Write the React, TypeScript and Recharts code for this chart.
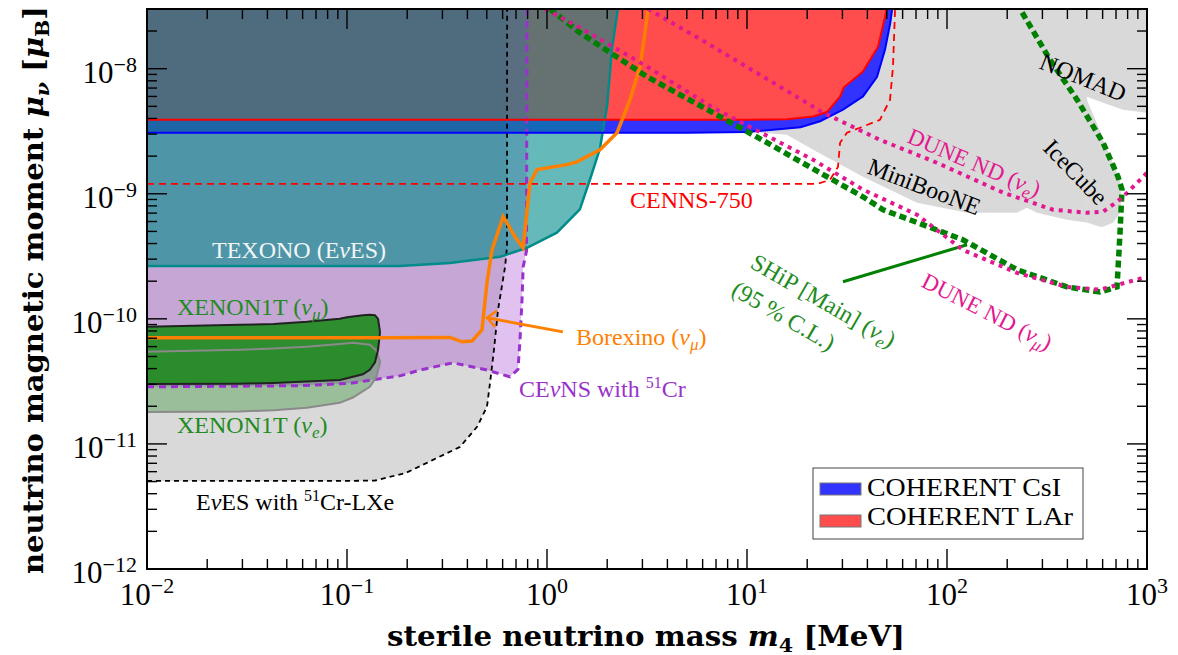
import React from "react";
import { ComposedChart, Area, Line, XAxis, YAxis } from "recharts";

const W = 1178;
const H = 655;
// plot frame in page pixels
const PL = 147;
const PT = 9;
const PR = 1147;
const PB = 569;
const TOP = 3e-8;
const SERIF = '"Liberation Serif", "Times New Roman", serif';
const BOLD = '"DejaVu Serif", serif';

// ---- region edges (m4 in MeV, mu in Bohr magnetons) ----
const csiEdge = [
  { m: 0.01, mu: 3.08e-9 }, { m: 5, mu: 3.08e-9 }, { m: 10, mu: 3.12e-9 }, { m: 18.5, mu: 3.4e-9 },
  { m: 23.2, mu: 3.8e-9 }, { m: 30.2, mu: 4.7e-9 }, { m: 38, mu: 6e-9 }, { m: 44.7, mu: 8.6e-9 },
  { m: 49, mu: 1.42e-8 }, { m: 52, mu: 2.3e-8 }, { m: 53.2, mu: 3e-8 },
];
const larEdge = [
  { m: 0.01, mu: 3.9e-9 }, { m: 10, mu: 3.9e-9 }, { m: 15.8, mu: 3.95e-9 }, { m: 21.4, mu: 4.15e-9 },
  { m: 25.1, mu: 4.5e-9 }, { m: 29.2, mu: 6e-9 }, { m: 30.5, mu: 7.1e-9 }, { m: 38, mu: 9.5e-9 },
  { m: 45.2, mu: 1.5e-8 }, { m: 49, mu: 2.6e-8 }, { m: 50, mu: 3e-8 },
];
const texonoEdge = [
  { m: 0.01, mu: 2.65e-10 }, { m: 0.184, mu: 2.65e-10 }, { m: 0.327, mu: 2.8e-10 }, { m: 0.582, mu: 3.13e-10 },
  { m: 0.794, mu: 3.7e-10 }, { m: 1.12, mu: 4.88e-10 }, { m: 1.46, mu: 7.5e-10 }, { m: 1.64, mu: 1.3e-9 },
  { m: 1.84, mu: 2.3e-9 }, { m: 2.0, mu: 5.1e-9 }, { m: 2.11, mu: 1.42e-8 }, { m: 2.26, mu: 3e-8 },
];
const cevnsEdge = [
  { m: 0.01, mu: 2.86e-11 }, { m: 0.058, mu: 2.92e-11 }, { m: 0.103, mu: 3.05e-11 }, { m: 0.184, mu: 3.5e-11 },
  { m: 0.232, mu: 3.9e-11 }, { m: 0.339, mu: 4.45e-11 }, { m: 0.5, mu: 3.9e-11 }, { m: 0.653, mu: 3.44e-11 },
  { m: 0.716, mu: 3.95e-11 }, { m: 0.733, mu: 6.8e-11 }, { m: 0.75, mu: 1.42e-10 }, { m: 0.76, mu: 2.6e-10 },
  { m: 0.79, mu: 3.5e-10 }, { m: 0.794, mu: 3e-8 },
];
const lxeEdge = [
  { m: 0.01, mu: 5.06e-12 }, { m: 0.1, mu: 5.06e-12 }, { m: 0.138, mu: 5.1e-12 }, { m: 0.197, mu: 5.86e-12 },
  { m: 0.269, mu: 7.45e-12 }, { m: 0.367, mu: 9.46e-12 }, { m: 0.447, mu: 1.37e-11 }, { m: 0.501, mu: 1.98e-11 },
  { m: 0.519, mu: 3.08e-11 }, { m: 0.543, mu: 5.65e-11 }, { m: 0.569, mu: 1.18e-10 }, { m: 0.617, mu: 2.6e-10 },
  { m: 0.631, mu: 3.77e-10 }, { m: 0.632, mu: 3e-8 },
];
const xenonMu = [
  { m: 0.01, lo: 3.02e-11, hi: 8.63e-11 }, { m: 0.029, lo: 3.03e-11, hi: 8.95e-11 },
  { m: 0.043, lo: 3.07e-11, hi: 9.1e-11 }, { m: 0.063, lo: 3.15e-11, hi: 9.46e-11 },
  { m: 0.092, lo: 3.25e-11, hi: 1.0e-10 }, { m: 0.1, lo: 3.35e-11, hi: 1.03e-10 },
  { m: 0.12, lo: 3.6e-11, hi: 1.07e-10 }, { m: 0.13, lo: 3.91e-11, hi: 1.08e-10 },
  { m: 0.138, lo: 4.5e-11, hi: 1.07e-10 }, { m: 0.143, lo: 5.65e-11, hi: 1.0e-10 },
  { m: 0.146, lo: 7.6e-11, hi: 8.0e-11 },
];
const xenonE = [
  { m: 0.01, lo: 1.8e-11, hi: 5.45e-11 }, { m: 0.029, lo: 1.82e-11, hi: 5.65e-11 },
  { m: 0.043, lo: 1.86e-11, hi: 5.8e-11 }, { m: 0.063, lo: 1.95e-11, hi: 5.97e-11 },
  { m: 0.092, lo: 2.13e-11, hi: 6.3e-11 }, { m: 0.107, lo: 2.35e-11, hi: 6.43e-11 },
  { m: 0.13, lo: 2.86e-11, hi: 6.2e-11 }, { m: 0.14, lo: 3.4e-11, hi: 5.6e-11 },
  { m: 0.146, lo: 4.4e-11, hi: 4.6e-11 },
];
const greyMainEdge = [
  { m: 11.6, mu: 3.08e-9 }, { m: 15.8, mu: 2.96e-9 }, { m: 21.4, mu: 2.25e-9 }, { m: 38, mu: 1.37e-9 },
  { m: 70.8, mu: 8.47e-10 }, { m: 126, mu: 7.05e-10 }, { m: 224, mu: 7.05e-10 }, { m: 251, mu: 7.73e-10 },
  { m: 282, mu: 7.05e-10 }, { m: 398, mu: 6.19e-10 }, { m: 500, mu: 5.9e-10 }, { m: 502, mu: 5.97e-9 },
  { m: 603, mu: 5.35e-9 }, { m: 759, mu: 4.7e-9 }, { m: 1000, mu: 4.45e-9 },
];
const iceCubeLobe = [
  { m: 500, lo: 5.9e-10, hi: 5.65e-9 }, { m: 582, lo: 5.45e-10, hi: 3.2e-9 },
  { m: 603, lo: 5.45e-10, hi: 2.7e-9 }, { m: 676, lo: 5.86e-10, hi: 1.77e-9 },
  { m: 733, lo: 7.05e-10, hi: 1.29e-9 }, { m: 742, lo: 8.5e-10, hi: 1.0e-9 },
];

// ---- curves ----
const cenns750 = [
  { m: 0.01, mu: 1.2e-9 }, { m: 22.4, mu: 1.2e-9 }, { m: 26, mu: 1.29e-9 }, { m: 28.5, mu: 1.64e-9 },
  { m: 29.2, mu: 2.56e-9 }, { m: 31.6, mu: 3.08e-9 }, { m: 36.7, mu: 3.37e-9 }, { m: 46.2, mu: 3.9e-9 },
  { m: 51.9, mu: 5.65e-9 }, { m: 53.7, mu: 1.04e-8 }, { m: 55, mu: 3e-8 },
];
const borexino = [
  { m: 0.01, mu: 7.05e-11 }, { m: 0.15, mu: 7.05e-11 }, { m: 0.327, mu: 7.1e-11 }, { m: 0.376, mu: 6.55e-11 },
  { m: 0.422, mu: 6.65e-11 }, { m: 0.473, mu: 8.17e-11 }, { m: 0.501, mu: 1.94e-10 }, { m: 0.531, mu: 3.56e-10 },
  { m: 0.603, mu: 6.55e-10 }, { m: 0.631, mu: 5.86e-10 }, { m: 0.692, mu: 4.53e-10 }, { m: 0.759, mu: 3.7e-10 },
  { m: 0.822, mu: 1.22e-9 }, { m: 0.891, mu: 1.56e-9 }, { m: 1.259, mu: 1.71e-9 }, { m: 1.41, mu: 1.8e-9 },
  { m: 1.84, mu: 2.25e-9 }, { m: 2.24, mu: 3.08e-9 }, { m: 2.6, mu: 5.65e-9 }, { m: 2.92, mu: 1.04e-8 },
  { m: 3.09, mu: 1.94e-8 }, { m: 3.2, mu: 3e-8 },
];
const shipMain = [
  { m: 1.035, mu: 3e-8 }, { m: 1.46, mu: 1.94e-8 }, { m: 3.16, mu: 8.63e-9 }, { m: 6.76, mu: 4.45e-9 },
  { m: 12.6, mu: 2.56e-9 }, { m: 23.2, mu: 1.47e-9 }, { m: 38, mu: 9.46e-10 }, { m: 47.9, mu: 7.45e-10 },
  { m: 120, mu: 4.29e-10 }, { m: 224, mu: 2.47e-10 }, { m: 398, mu: 1.8e-10 }, { m: 582, mu: 1.64e-10 },
  { m: 708, mu: 1.8e-10 }, { m: 733, mu: 4.88e-10 }, { m: 750, mu: 1.08e-9 }, { m: 716, mu: 1.37e-9 },
  { m: 603, mu: 2.56e-9 }, { m: 447, mu: 5.65e-9 }, { m: 327, mu: 1.18e-8 }, { m: 232, mu: 3e-8 },
];
const duneMu = [
  { m: 0.98, mu: 3e-8 }, { m: 1.46, mu: 2.13e-8 }, { m: 3.16, mu: 1.04e-8 }, { m: 6.76, mu: 4.88e-9 },
  { m: 21.4, mu: 1.87e-9 }, { m: 38, mu: 1.08e-9 }, { m: 70.8, mu: 6.8e-10 }, { m: 120, mu: 3.56e-10 },
  { m: 224, mu: 2.33e-10 }, { m: 398, mu: 1.8e-10 }, { m: 582, mu: 1.71e-10 }, { m: 1000, mu: 2.17e-10 },
];
const duneE = [
  { m: 3.2, mu: 3e-8 }, { m: 6.76, mu: 1.5e-8 }, { m: 14.6, mu: 7.18e-9 }, { m: 24, mu: 4.45e-9 },
  { m: 46.2, mu: 2.7e-9 }, { m: 89, mu: 1.77e-9 }, { m: 191, mu: 1.02e-9 }, { m: 339, mu: 7.45e-10 },
  { m: 501, mu: 7.05e-10 }, { m: 603, mu: 7.2e-10 }, { m: 676, mu: 8.17e-10 }, { m: 759, mu: 9.46e-10 },
  { m: 891, mu: 1.22e-9 }, { m: 1000, mu: 1.47e-9 },
];
const borexArrow = [{ m: 1.2, mu: 7.87e-11 }, { m: 0.501, mu: 1.02e-10 }];
const borexHead = [{ m: 0.562, mu: 1.16e-10 }, { m: 0.501, mu: 1.02e-10 }, { m: 0.55, mu: 8.63e-11 }];
const shipArrow = [{ m: 30.2, mu: 1.98e-10 }, { m: 126, mu: 3.91e-10 }];

// ---- ticks ----
const xTicks: number[] = [];
for (let e = -2; e <= 2; e++) for (let k = 1; k <= 9; k++) xTicks.push(+(k * Math.pow(10, e)).toPrecision(3));
xTicks.push(1000);
const yTicks: number[] = [];
for (let e = -12; e <= -9; e++) for (let k = 1; k <= 9; k++) yTicks.push(+(k * Math.pow(10, e)).toPrecision(3));
yTicks.push(1e-8, 2e-8);

const toBand = (edge: { m: number; mu: number }[]) => edge.map((p) => ({ m: p.m, r: [p.mu, TOP] }));
const toRange = (blob: { m: number; lo: number; hi: number }[]) => blob.map((p) => ({ m: p.m, r: [p.lo, p.hi] }));
const toLoop = (blob: { m: number; lo: number; hi: number }[]) => [
  ...blob.map((p) => ({ m: p.m, mu: p.hi })),
  ...blob.slice().reverse().map((p) => ({ m: p.m, mu: p.lo })),
  { m: blob[0].m, mu: blob[0].hi },
];

const expLabel = (e: number) => (e < 0 ? "\u2212" + -e : String(e));
const isMajor = (v: number) => Math.abs(Math.log10(v) - Math.round(Math.log10(v))) < 1e-6;

const XTick = (props: any) => {
  const { x, payload } = props;
  const v = payload.value;
  const major = isMajor(v);
  const len = major ? 20 : 10;
  return (
    <g>
      <line x1={x} x2={x} y1={PB} y2={PB - len} stroke="#000" strokeWidth={1.4} />
      <line x1={x} x2={x} y1={PT} y2={PT + len} stroke="#000" strokeWidth={1.4} />
      {major && (
        <text x={x} y={605} textAnchor="middle" fontFamily={SERIF} fontSize={31} fill="#000">
          10<tspan dy={-12} fontSize={22}>{expLabel(Math.round(Math.log10(v)))}</tspan>
        </text>
      )}
    </g>
  );
};

const YTick = (props: any) => {
  const { y, payload } = props;
  const v = payload.value;
  const major = isMajor(v);
  const len = major ? 20 : 10;
  return (
    <g>
      <line x1={PL} x2={PL + len} y1={y} y2={y} stroke="#000" strokeWidth={1.4} />
      <line x1={PR} x2={PR - len} y1={y} y2={y} stroke="#000" strokeWidth={1.4} />
      {major && (
        <text x={137} y={y + 14} textAnchor="end" fontFamily={SERIF} fontSize={31} fill="#000">
          10<tspan dy={-11} fontSize={22}>{expLabel(Math.round(Math.log10(v)))}</tspan>
        </text>
      )}
    </g>
  );
};

const common = { isAnimationActive: false, dot: false, activeDot: false, type: "linear" as const };

const Nu = ({ sub, dy = 5, size = 17 }: { sub: string; dy?: number; size?: number }) => (
  <>
    <tspan fontStyle="italic">ν</tspan>
    <tspan fontStyle="italic" fontSize={size} dy={dy}>{sub}</tspan>
    <tspan dy={-dy}>)</tspan>
  </>
);

const XH = 50;
const YW = 100;

export default function App() {
  return (
    <div style={{ position: "absolute", left: 0, top: 0, width: W, height: H, background: "#fff" }}>
      <ComposedChart width={W} height={H} margin={{ top: PT, right: W - PR, bottom: H - PB - XH, left: PL - YW }}>
        <XAxis
          type="number"
          dataKey="m"
          scale="log"
          domain={[0.01, 1000]}
          allowDataOverflow
          ticks={xTicks}
          interval={0}
          tick={<XTick />}
          tickLine={false}
          axisLine={false}
          height={XH}
        />
        <YAxis
          type="number"
          scale="log"
          domain={[1e-12, TOP]}
          allowDataOverflow
          ticks={yTicks}
          interval={0}
          tick={<YTick />}
          tickLine={false}
          axisLine={false}
          width={YW}
        />

        {/* filled regions, back to front */}
        <Area {...common} data={toBand(greyMainEdge)} dataKey="r" stroke="none" fill="#d9d9d9" fillOpacity={1} />
        <Area {...common} data={toRange(iceCubeLobe)} dataKey="r" stroke="none" fill="#d9d9d9" fillOpacity={1} />
        <Area {...common} data={toBand(csiEdge)} dataKey="r" stroke="none" fill="#3333ff" fillOpacity={1} />
        <Area {...common} data={toBand(larEdge)} dataKey="r" stroke="none" fill="#ff4d4d" fillOpacity={1} />
        <Area {...common} data={toBand(lxeEdge)} dataKey="r" stroke="none" fill="#000000" fillOpacity={0.15} />
        <Area {...common} data={toBand(cevnsEdge)} dataKey="r" stroke="none" fill="#9932cc" fillOpacity={0.3} />
        <Area {...common} data={toBand(texonoEdge)} dataKey="r" stroke="none" fill="#008b8b" fillOpacity={0.6} />
        <Area {...common} data={toRange(xenonMu)} dataKey="r" stroke="none" fill="#228b22" fillOpacity={0.93} />
        <Area {...common} data={toRange(xenonE)} dataKey="r" stroke="none" fill="#228b22" fillOpacity={0.35} />

        {/* boundaries and curves */}
        <Line {...common} data={lxeEdge} dataKey="mu" stroke="#000" strokeWidth={1.8} strokeDasharray="5 4" />
        <Line {...common} data={cevnsEdge} dataKey="mu" stroke="#9932cc" strokeWidth={3} strokeDasharray="7 5" />
        <Line {...common} data={texonoEdge} dataKey="mu" stroke="#008b8b" strokeWidth={2.5} />
        <Line {...common} data={csiEdge} dataKey="mu" stroke="#0000ff" strokeWidth={2} />
        <Line {...common} data={larEdge} dataKey="mu" stroke="#ff0000" strokeWidth={2} />
        <Line {...common} data={cenns750} dataKey="mu" stroke="#ff0000" strokeWidth={1.8} strokeDasharray="7 5" />
        <Line {...common} data={toLoop(xenonE)} dataKey="mu" stroke="#8a8a8a" strokeWidth={2} />
        <Line {...common} data={toLoop(xenonMu)} dataKey="mu" stroke="#222" strokeWidth={2} />
        <Line {...common} data={borexArrow} dataKey="mu" stroke="#ff8000" strokeWidth={3} />
        <Line {...common} data={borexHead} dataKey="mu" stroke="#ff8000" strokeWidth={2.5} />
        <Line {...common} data={borexino} dataKey="mu" stroke="#ff8000" strokeWidth={3.5} />
        <Line {...common} data={shipArrow} dataKey="mu" stroke="#008000" strokeWidth={3} />
        <Line {...common} data={shipMain} dataKey="mu" stroke="#008000" strokeWidth={5.5} strokeDasharray="7 4" />
        <Line {...common} data={duneMu} dataKey="mu" stroke="#e3178f" strokeWidth={4} strokeDasharray="4 5" />
        <Line {...common} data={duneE} dataKey="mu" stroke="#e3178f" strokeWidth={4} strokeDasharray="4 5" />
      </ComposedChart>

      <svg
        width={W}
        height={H}
        style={{ position: "absolute", left: 0, top: 0, pointerEvents: "none" }}
        fontFamily={SERIF}
        fontSize={24}
      >
        <rect x={PL} y={PT} width={PR - PL} height={PB - PT} fill="none" stroke="#000" strokeWidth={2} />

        <text x={212} y={258} fill="#f2f6f6">
          TEXONO (E<tspan fontStyle="italic">ν</tspan>ES)
        </text>
        <text x={177} y={315} fill="#228b22">
          {"XENON1T ("}<Nu sub="μ" />
        </text>
        <text x={177} y={433} fill="#228b22">
          {"XENON1T ("}<Nu sub="e" />
        </text>
        <text x={196} y={510} fill="#000">
          E<tspan fontStyle="italic">ν</tspan>{"ES with "}
          <tspan dy={-9} fontSize={16}>51</tspan>
          <tspan dy={9}>Cr-LXe</tspan>
        </text>
        <text x={519} y={397} fill="#9932cc">
          CE<tspan fontStyle="italic">ν</tspan>{"NS with "}
          <tspan dy={-9} fontSize={16}>51</tspan>
          <tspan dy={9}>Cr</tspan>
        </text>
        <text x={576} y={345} fill="#ff8000">
          {"Borexino ("}<Nu sub="μ" />
        </text>
        <text x={630} y={208} fill="#ff0000">
          CENNS-750
        </text>

        <g transform="translate(749,267) rotate(30)" fill="#228b22">
          <text x={0} y={0}>
            {"SHiP [Main] ("}<Nu sub="e" />
          </text>
          <text x={-3} y={33}>(95 % C.L.)</text>
        </g>
        <text transform="translate(906,142) rotate(23)" fill="#e3178f" fontSize={23}>
          {"DUNE ND ("}<Nu sub="e" />
        </text>
        <text transform="translate(920,286) rotate(27)" fill="#e3178f" fontSize={23}>
          {"DUNE ND ("}<Nu sub="μ" />
        </text>
        <text transform="translate(866,173) rotate(21)" fill="#000">
          MiniBooNE
        </text>
        <text transform="translate(1038,68) rotate(22)" fill="#000">
          NOMAD
        </text>
        <text transform="translate(1042,149) rotate(46)" fill="#000">
          IceCube
        </text>

        {/* legend */}
        <rect x={813} y={468} width={270} height={71} fill="#fff" stroke="#444" strokeWidth={1} />
        <rect x={820} y={483} width={41} height={12} fill="#3333ff" stroke="#777" strokeWidth={1} />
        <rect x={820} y={515} width={41} height={12} fill="#ff4d4d" stroke="#777" strokeWidth={1} />
        <text x={867} y={496} fontSize={26} textLength={194} lengthAdjust="spacingAndGlyphs">
          COHERENT CsI
        </text>
        <text x={867} y={525} fontSize={26} textLength={206} lengthAdjust="spacingAndGlyphs">
          COHERENT LAr
        </text>

        {/* axis titles */}
        <text
          x={646}
          y={646}
          textAnchor="middle"
          fontFamily={BOLD}
          fontWeight="bold"
          fontSize={27}
          textLength={518}
          lengthAdjust="spacingAndGlyphs"
        >
          {"sterile neutrino mass "}
          <tspan fontStyle="italic">m</tspan>
          <tspan fontSize={19} dy={6}>4</tspan>
          <tspan dy={-6}>{" [MeV]"}</tspan>
        </text>
        <text
          transform="translate(43,290) rotate(-90)"
          textAnchor="middle"
          fontFamily={BOLD}
          fontWeight="bold"
          fontSize={27}
          textLength={568}
          lengthAdjust="spacingAndGlyphs"
        >
          {"neutrino magnetic moment "}
          <tspan fontStyle="italic">μ</tspan>
          <tspan fontStyle="italic" fontSize={19} dy={6}>ν</tspan>
          <tspan dy={-6}>{" ["}</tspan>
          <tspan fontStyle="italic">μ</tspan>
          <tspan fontSize={19} dy={6}>B</tspan>
          <tspan dy={-6}>]</tspan>
        </text>
      </svg>
    </div>
  );
}
